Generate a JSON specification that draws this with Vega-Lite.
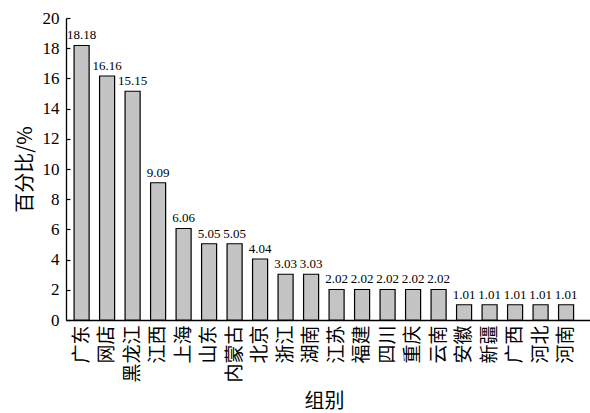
{
  "$schema": "https://vega.github.io/schema/vega-lite/v6.json",
  "width": 524,
  "height": 302,
  "autosize": {"type": "none"},
  "padding": {"left": 66, "top": 18, "right": 0, "bottom": 93},
  "background": "white",
  "config": {"view": {"stroke": null}, "font": "Liberation Serif"},
  "data": {
    "values": [
      {"group": "广东", "pct": 18.18},
      {"group": "网店", "pct": 16.16},
      {"group": "黑龙江", "pct": 15.15},
      {"group": "江西", "pct": 9.09},
      {"group": "上海", "pct": 6.06},
      {"group": "山东", "pct": 5.05},
      {"group": "内蒙古", "pct": 5.05},
      {"group": "北京", "pct": 4.04},
      {"group": "浙江", "pct": 3.03},
      {"group": "湖南", "pct": 3.03},
      {"group": "江苏", "pct": 2.02},
      {"group": "福建", "pct": 2.02},
      {"group": "四川", "pct": 2.02},
      {"group": "重庆", "pct": 2.02},
      {"group": "云南", "pct": 2.02},
      {"group": "安徽", "pct": 1.01},
      {"group": "新疆", "pct": 1.01},
      {"group": "广西", "pct": 1.01},
      {"group": "河北", "pct": 1.01},
      {"group": "河南", "pct": 1.01}
    ]
  },
  "encoding": {
    "x": {
      "field": "group", "type": "nominal", "sort": null,
      "scale": {"paddingInner": 0.41, "paddingOuter": 0.48, "align": 0.33},
      "axis": {
        "title": "组别", "titleFont": "Noto Sans CJK SC", "titleFontSize": 20, "titleFontWeight": "normal",
        "titleColor": "black", "titleX": 258, "titleY": 81, "titleBaseline": "middle",
        "labelAngle": -90, "labelAlign": "right", "labelBaseline": "middle",
        "labelFont": "Noto Sans CJK SC", "labelFontSize": 19, "labelColor": "black", "labelPadding": 5,
        "ticks": false, "domainColor": "black", "domainWidth": 1.3
      }
    },
    "y": {
      "field": "pct", "type": "quantitative",
      "scale": {"domain": [0, 20]},
      "axis": {
        "title": "百分比/%", "titleFont": "Noto Sans CJK SC", "titleFontSize": 20, "titleFontWeight": "normal",
        "titleColor": "black", "titleX": -41, "titleY": 151, "titleAngle": -90,
        "titleAlign": "center", "titleBaseline": "middle",
        "values": [0, 2, 4, 6, 8, 10, 12, 14, 16, 18, 20],
        "labelFont": "Liberation Serif", "labelFontSize": 17, "labelColor": "black", "labelPadding": 11,
        "tickSize": -4, "tickColor": "black", "tickWidth": 1.2,
        "domainColor": "black", "domainWidth": 1.3, "grid": false
      }
    }
  },
  "layer": [
    {"mark": {"type": "bar", "fill": "#c4c4c4", "stroke": "black", "strokeWidth": 1.2}},
    {
      "mark": {"type": "text", "baseline": "bottom", "dy": -3, "font": "Liberation Serif", "fontSize": 13, "fill": "black"},
      "encoding": {"text": {"field": "pct", "type": "quantitative", "format": ".2f"}}
    }
  ]
}
